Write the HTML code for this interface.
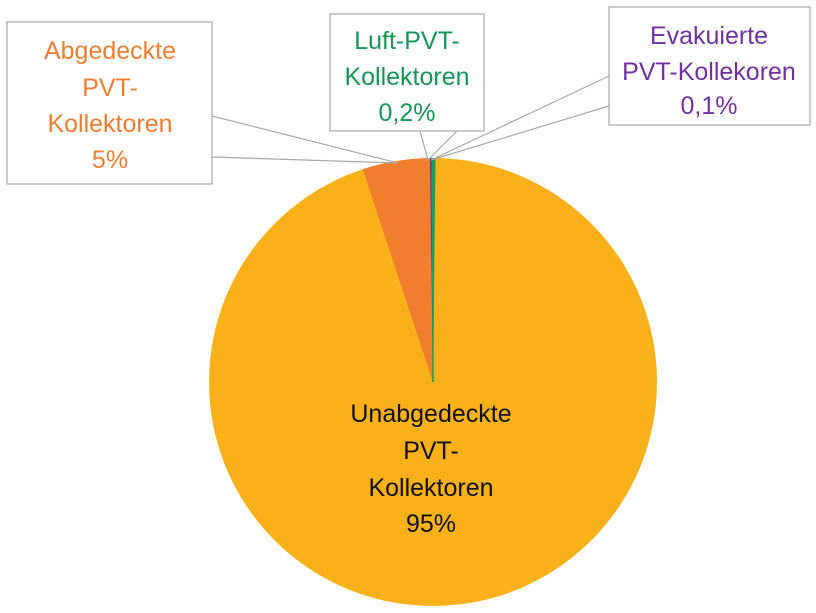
<!DOCTYPE html>
<html><head><style>
body{margin:0;background:#fff;}
svg text{font-family:"Liberation Sans",sans-serif;font-size:25px;text-anchor:middle;}
</style></head><body>
<svg width="816" height="608" viewBox="0 0 816 608" xmlns="http://www.w3.org/2000/svg">
<circle cx="433" cy="382" r="224" fill="#F9B11A"/>
<path d="M433,382 L362.7,169.3 A224,224 0 0 1 430.5,158 Z" fill="#F07E2D"/>
<path d="M433,382 L429.9,158 A224,224 0 0 1 431.5,158 Z" fill="#7030A0"/>
<path d="M433,382 L431.5,158 A224,224 0 0 1 435.5,158 Z" fill="#14A05A"/>
<line x1="433" y1="158" x2="433" y2="382" stroke="#14A05A" stroke-width="1.5"/>
<g stroke="#A8A8A8" stroke-width="1.2" fill="none">
<rect x="7" y="22" width="205" height="162" fill="#fff"/>
<rect x="330" y="14" width="154" height="117" fill="#fff"/>
<rect x="609" y="7" width="201" height="118" fill="#fff"/>
<polyline points="212,116 398,163 212,157"/>
<polyline points="420,131 428,160 457,131"/>
<polyline points="609,76 431,160 609,106"/>
</g>
<g fill="#ED7D31"><text x="110" y="59">Abgedeckte</text><text x="110" y="96">PVT-</text><text x="110" y="132">Kollektoren</text><text x="110" y="168">5%</text></g>
<g fill="#14955A"><text x="407" y="49">Luft-PVT-</text><text x="407" y="85">Kollektoren</text><text x="407" y="121">0,2%</text></g>
<g fill="#7030A0"><text x="709" y="44">Evakuierte</text><text x="709" y="80">PVT-Kollekoren</text><text x="709" y="114">0,1%</text></g>
<g fill="#111"><text x="431" y="422">Unabgedeckte</text><text x="431" y="459">PVT-</text><text x="431" y="496">Kollektoren</text><text x="431" y="532">95%</text></g>
</svg>
</body></html>
